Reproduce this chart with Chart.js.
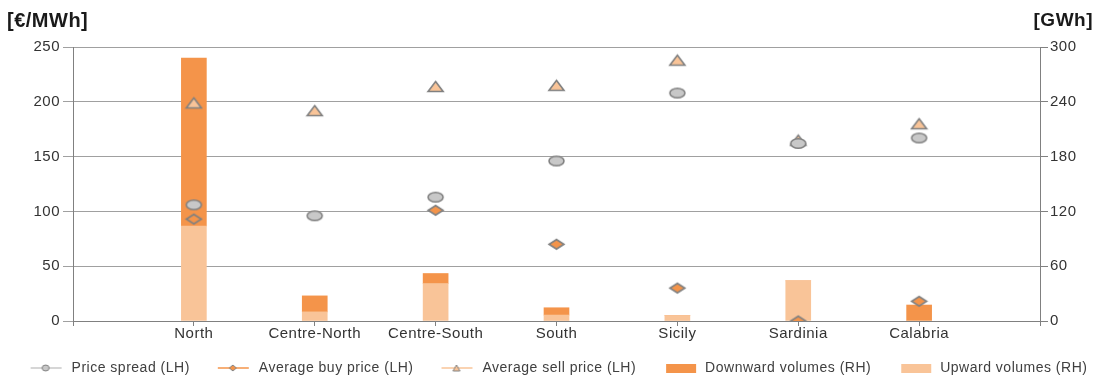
<!DOCTYPE html>
<html>
<head>
<meta charset="utf-8">
<script src="https://cdn.jsdelivr.net/npm/chart.js@4/dist/chart.umd.min.js"></script>
<style>
  html, body { margin: 0; padding: 0; background: #fff; }
  #wrap { position: relative; width: 1098px; height: 378px; }
</style>
</head>
<body>
<div id="wrap"><canvas id="chart"></canvas></div>
<script>
// Regions (empty slots at both ends keep the axes away from the first/last bar)
const categories = ['', 'North', 'Centre-North', 'Centre-South', 'South', 'Sicily', 'Sardinia', 'Calabria', ''];

// Left axis series (EUR/MWh)
const priceSpread = [null, 106, 96, 113, 146, 208, 162, 167, null];
const avgBuyPrice = [null, 93, null, 101, 70, 30, 0, 18, null];
const avgSellPrice = [null, 199, 192, 214, 215, 238, 165, 180, null];

// Right axis series (GWh)
const downwardVolumes = [null, 184, 17.5, 11, 8, 0, 0, 17.5, null];
const upwardVolumes = [null, 104, 10, 41, 6.5, 6, 44, 0, null];

const leftTicks = [0, 50, 100, 150, 200, 250];
const rightTicks = [0, 60, 120, 180, 240, 300];

const DARK = '#f4944a';
const LIGHT = '#f9c498';
const GREY = '#808080';
const FONT = "'Liberation Sans', Arial, sans-serif";

// the source picture is a bit stretched sideways, so markers are drawn wider than tall
function drawMarker(ctx, kind, cx, cy, w, h) {
    ctx.beginPath();
    if (kind === 'circle') {
        ctx.ellipse(cx, cy, w / 2, h / 2, 0, 0, Math.PI * 2);
    } else if (kind === 'diamond') {
        ctx.moveTo(cx, cy - h / 2); ctx.lineTo(cx + w / 2, cy); ctx.lineTo(cx, cy + h / 2); ctx.lineTo(cx - w / 2, cy); ctx.closePath();
    } else {
        ctx.moveTo(cx, cy - h / 2); ctx.lineTo(cx + w / 2, cy + h / 2); ctx.lineTo(cx - w / 2, cy + h / 2); ctx.closePath();
    }
    ctx.fill(); ctx.stroke();
}

function makeMarker(kind, fill) {
    const c = document.createElement('canvas');
    c.width = 19; c.height = 15;
    const ctx = c.getContext('2d');
    ctx.fillStyle = fill;
    ctx.strokeStyle = GREY;
    ctx.lineWidth = 1.6;
    drawMarker(ctx, kind, 9.5, 7.5, 15, kind === 'triangle' ? 10 : 9.5);
    return c;
}

// legend icons carry some blank space on the left, that is the gap between items
function makeIcon(kind) {
    const c = document.createElement('canvas');
    c.width = 54; c.height = 12;
    const ctx = c.getContext('2d');
    if (kind === 'bar-dark' || kind === 'bar-light') {
        ctx.fillStyle = kind === 'bar-dark' ? DARK : LIGHT;
        ctx.fillRect(22, 2, 30, 9);
        return c;
    }
    const col = kind === 'circle' ? '#c8c8c8' : (kind === 'diamond' ? DARK : LIGHT);
    ctx.strokeStyle = col;
    ctx.lineWidth = 1.5;
    ctx.beginPath(); ctx.moveTo(20, 6); ctx.lineTo(51, 6); ctx.stroke();
    ctx.fillStyle = col;
    ctx.strokeStyle = GREY;
    ctx.lineWidth = 1;
    drawMarker(ctx, kind, 35, 6, 7, 6);
    return c;
}

const markerSpread = makeMarker('circle', '#c8c8c8');
const markerBuy = makeMarker('diamond', DARK);
const markerSell = makeMarker('triangle', LIGHT);
const legendIcons = [makeIcon('circle'), makeIcon('diamond'), makeIcon('triangle'), makeIcon('bar-dark'), makeIcon('bar-light')];

const letterSpacing = {
    id: 'letterSpacing',
    beforeUpdate(chart) { chart.ctx.letterSpacing = '0.5px'; },
    beforeDraw(chart) { chart.ctx.letterSpacing = '0.5px'; }
};

const axisTitles = {
    id: 'axisTitles',
    afterDraw(chart) {
        const ctx = chart.ctx;
        ctx.save();
        ctx.fillStyle = '#1a1a1a';
        ctx.textBaseline = 'middle';
        ctx.textAlign = 'left';
        ctx.font = 'bold 20px ' + FONT;
        ctx.fillText('[€/MWh]', 7, 21);
        ctx.textAlign = 'right';
        ctx.font = 'bold 19px ' + FONT;
        ctx.fillText('[GWh]', 1093, 21);
        ctx.restore();
    }
};

Chart.defaults.font.family = FONT;
Chart.defaults.color = '#404040';

new Chart(document.getElementById('chart'), {
    data: {
        labels: categories,
        datasets: [
            {
                type: 'line', label: 'Price spread (LH)', data: priceSpread, yAxisID: 'y',
                showLine: false, pointStyle: markerSpread, order: 0
            },
            {
                type: 'line', label: 'Average buy price (LH)', data: avgBuyPrice, yAxisID: 'y',
                showLine: false, pointStyle: markerBuy, order: 0
            },
            {
                type: 'line', label: 'Average sell price (LH)', data: avgSellPrice, yAxisID: 'y',
                showLine: false, pointStyle: markerSell, order: 0
            },
            {
                type: 'bar', label: 'Downward volumes (RH)', data: downwardVolumes, yAxisID: 'y1',
                backgroundColor: DARK, barThickness: 25, stack: 'vol', order: 2
            },
            {
                type: 'bar', label: 'Upward volumes (RH)', data: upwardVolumes, yAxisID: 'y1',
                backgroundColor: LIGHT, barThickness: 25, stack: 'vol', order: 1
            }
        ]
    },
    options: {
        responsive: true,
        maintainAspectRatio: false,
        animation: false,
        layout: { padding: { top: 47, left: 0, right: 0, bottom: -7 } },
        plugins: {
            tooltip: { enabled: false },
            legend: {
                position: 'bottom',
                labels: {
                    usePointStyle: true,
                    pointStyleWidth: 54,
                    padding: 8,
                    font: { size: 14 },
                    color: '#404040',
                    sort: (a, b) => a.datasetIndex - b.datasetIndex,
                    generateLabels(chart) {
                        const items = Chart.defaults.plugins.legend.labels.generateLabels(chart);
                        items.forEach(it => { it.pointStyle = legendIcons[it.datasetIndex]; });
                        return items;
                    }
                }
            }
        },
        scales: {
            x: {
                stacked: true,
                offset: false,
                afterFit: s => { s.height = 32; },
                grid: { offset: false, drawOnChartArea: false, drawTicks: true, tickLength: 5, color: '#808080' },
                border: { color: '#808080' },
                ticks: { font: { size: 15 }, color: '#333', maxRotation: 0, autoSkip: false, padding: -1 }
            },
            y: {
                position: 'left',
                min: 0, max: 250,
                afterBuildTicks: s => { s.ticks = leftTicks.map(v => ({ value: v })); },
                afterFit: s => { s.width = 73; },
                grid: { color: '#a0a0a0', tickLength: 10 },
                border: { color: '#808080' },
                ticks: { font: { size: 15 }, color: '#333', padding: 3 }
            },
            y1: {
                position: 'right',
                stacked: true,
                min: 0, max: 300,
                afterBuildTicks: s => { s.ticks = rightTicks.map(v => ({ value: v })); },
                afterFit: s => { s.width = 58; },
                grid: { drawOnChartArea: false, color: '#808080', tickLength: 8 },
                border: { color: '#808080' },
                ticks: { font: { size: 15 }, color: '#333', padding: 2 }
            }
        },
        elements: { point: { radius: 7, hoverRadius: 7 } }
    },
    plugins: [letterSpacing, axisTitles]
});
</script>
</body>
</html>
